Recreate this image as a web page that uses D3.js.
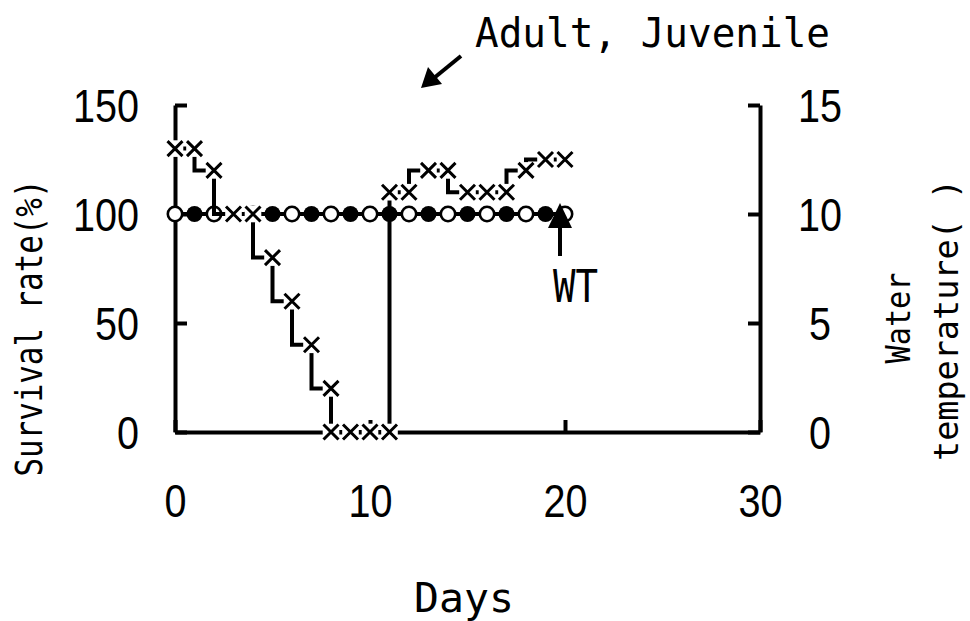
<!DOCTYPE html>
<html>
<head>
<meta charset="utf-8">
<script src="https://cdn.jsdelivr.net/npm/d3@7"></script>
<style>
  html, body { margin: 0; padding: 0; background: #fff; }
  svg { display: block; }
</style>
</head>
<body>
<svg id="chart" width="970" height="621"></svg>
<script>
// ---- data ----
const adultDays = [0, 2, 4, 6, 8, 10, 12, 14, 16, 18, 20];
const adultSurvival = [100, 100, 100, 100, 100, 100, 100, 100, 100, 100, 100];
const juvenileDays = [1, 3, 5, 7, 9, 11, 13, 15, 17, 19];
const juvenileSurvival = [100, 100, 100, 100, 100, 100, 100, 100, 100, 100];
const wtDays = [0, 1, 2, 3, 4, 5, 6, 7, 8, 8, 9, 10, 11, 11, 12, 13, 14, 15, 16, 17, 18, 19, 20];
const wtTemp = [13, 13, 12, 10, 10, 8, 6, 4, 2, 0, 0, 0, 0, 11, 11, 12, 12, 11, 11, 11, 12, 12.5, 12.5];
const xTicks = [0, 10, 20, 30];
const yLeftTicks = [0, 50, 100, 150];
const yRightTicks = [0, 5, 10, 15];

// ---- layout ----
const svg = d3.select("#chart");
const X0 = 175, X1 = 760, Y0 = 432, Y1 = 105;
const x = d3.scaleLinear().domain([0, 30]).range([X0, X1]);
const yL = d3.scaleLinear().domain([0, 150]).range([Y0, Y1]);
const yR = d3.scaleLinear().domain([0, 15]).range([Y0, Y1]);

const numFont = "'Liberation Sans Narrow','Liberation Sans',Arial,sans-serif";
const monoFont = "'DejaVu Sans Mono','Liberation Mono',monospace";

function styleAxis(g) {
  g.select(".domain").attr("stroke", "#000").attr("stroke-width", 4);
  g.selectAll(".tick line").attr("stroke", "#000").attr("stroke-width", 4);
  g.selectAll(".tick text")
    .attr("fill", "#000")
    .style("font-family", numFont)
    .style("font-size", "46px")
    .attr("textLength", d => String(d).length * 22)
    .attr("lengthAdjust", "spacingAndGlyphs");
}

// bottom axis
const gx = svg.append("g").attr("transform", `translate(0,${Y0})`)
  .call(d3.axisBottom(x).tickValues(xTicks).tickSizeInner(-12).tickSizeOuter(0).tickFormat(d3.format("d")));
styleAxis(gx);
gx.selectAll(".tick text").attr("y", 85).attr("dy", 0);

// left axis
const gl = svg.append("g").attr("transform", `translate(${X0},0)`)
  .call(d3.axisLeft(yL).tickValues(yLeftTicks).tickSizeInner(-12).tickSizeOuter(0).tickPadding(36).tickFormat(d3.format("d")));
styleAxis(gl);
gl.selectAll(".tick text").attr("dy", "0.36em");

// right axis
const gr = svg.append("g").attr("transform", `translate(${X1},0)`)
  .call(d3.axisRight(yR).tickValues(yRightTicks).tickSizeInner(-12).tickSizeOuter(0).tickPadding(60).tickFormat(d3.format("d")));
styleAxis(gr);
gr.selectAll(".tick text").attr("text-anchor", "middle").attr("dy", "0.36em");

// ---- survival series (circles) ----
const line = d3.line().x(d => x(d[0])).y(d => yL(d[1]));
const adult = adultDays.map((d, i) => [d, adultSurvival[i]]);
const juv = juvenileDays.map((d, i) => [d, juvenileSurvival[i]]);

svg.append("path").datum(adult).attr("d", line)
  .attr("fill", "none").attr("stroke", "#000").attr("stroke-width", 4);
svg.append("path").datum(juv).attr("d", line)
  .attr("fill", "none").attr("stroke", "#000").attr("stroke-width", 4);

svg.append("g").selectAll("circle").data(adult).join("circle")
  .attr("cx", d => x(d[0])).attr("cy", d => yL(d[1])).attr("r", 7.2)
  .attr("fill", "#fff").attr("stroke", "#000").attr("stroke-width", 2.6);
svg.append("g").selectAll("circle").data(juv).join("circle")
  .attr("cx", d => x(d[0])).attr("cy", d => yL(d[1])).attr("r", 8)
  .attr("fill", "#000");

// ---- water temperature series ----
const wt = wtDays.map((d, i) => [d, wtTemp[i]]);
const stepLine = d3.line().x(d => x(d[0])).y(d => yR(d[1])).curve(d3.curveStepBefore);
svg.append("path").datum(wt).attr("d", stepLine)
  .attr("fill", "none").attr("stroke", "#000").attr("stroke-width", 4);

const mk = svg.append("g").selectAll("g").data(wt).join("g")
  .attr("transform", d => `translate(${x(d[0])},${yR(d[1])})`);
mk.append("rect").attr("x", -8.3).attr("y", -8.3).attr("width", 16.6).attr("height", 16.6).attr("fill", "#fff");
mk.append("path").attr("d", "M-7.5,-7.5L7.5,7.5M-7.5,7.5L7.5,-7.5")
  .attr("stroke", "#000").attr("stroke-width", 3);

// ---- annotations ----
svg.append("text").text("Adult, Juvenile")
  .attr("x", 475).attr("y", 47)
  .style("font-family", monoFont).style("font-size", "41px")
  .attr("textLength", 355).attr("lengthAdjust", "spacingAndGlyphs");

// arrow for Adult, Juvenile
svg.append("line").attr("x1", 461).attr("y1", 56).attr("x2", 434).attr("y2", 78)
  .attr("stroke", "#000").attr("stroke-width", 4);
svg.append("path").attr("d", "M421,88L428,67L442,84Z").attr("fill", "#000");

// WT arrow
svg.append("line").attr("x1", 560).attr("y1", 256).attr("x2", 560).attr("y2", 222)
  .attr("stroke", "#000").attr("stroke-width", 4);
svg.append("path").attr("d", "M560,203L548,228L572,228Z").attr("fill", "#000");
svg.append("text").text("WT")
  .attr("x", 553).attr("y", 302)
  .style("font-family", monoFont).style("font-size", "44px")
  .attr("textLength", 45).attr("lengthAdjust", "spacingAndGlyphs");

// axis titles
svg.append("text").text("Days")
  .attr("x", 464).attr("y", 612).attr("text-anchor", "middle")
  .style("font-family", monoFont).style("font-size", "41px")
  .attr("textLength", 100).attr("lengthAdjust", "spacingAndGlyphs");

svg.append("text").text("Survival rate(%)")
  .attr("transform", "translate(42,328) rotate(-90)").attr("text-anchor", "middle")
  .style("font-family", monoFont).style("font-size", "38px")
  .attr("textLength", 297).attr("lengthAdjust", "spacingAndGlyphs");

svg.append("text").text("Water")
  .attr("transform", "translate(910,318) rotate(-90)").attr("text-anchor", "middle")
  .style("font-family", monoFont).style("font-size", "34px")
  .attr("textLength", 91).attr("lengthAdjust", "spacingAndGlyphs");

svg.append("text").text("temperature( )")
  .attr("transform", "translate(958,320) rotate(-90)").attr("text-anchor", "middle")
  .style("font-family", monoFont).style("font-size", "34px")
  .attr("textLength", 282).attr("lengthAdjust", "spacingAndGlyphs");
</script>
</body>
</html>
